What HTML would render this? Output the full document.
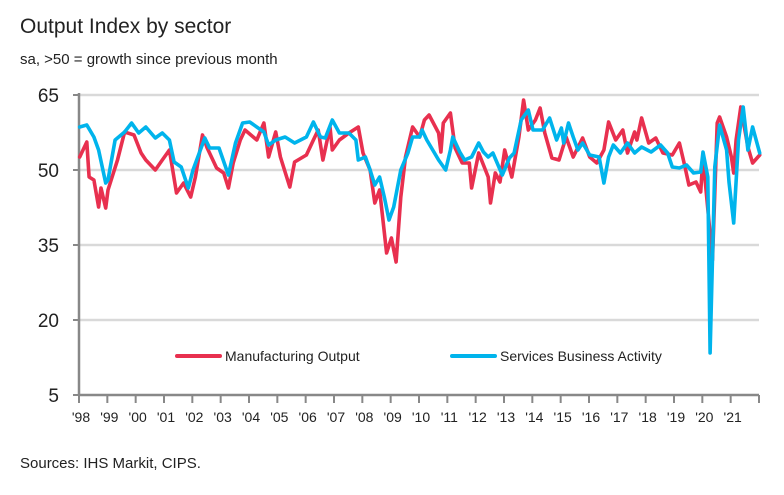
<!DOCTYPE html>
<html><head><meta charset="utf-8"><style>
body{margin:0;background:#fff;}
svg{display:block;font-family:"Liberation Sans",sans-serif;}
</style></head><body>
<svg id="chart" width="784" height="495" viewBox="0 0 784 495">
<text x="20" y="33" font-size="21" fill="#222">Output Index by sector</text>
<text x="20" y="64" font-size="15" fill="#222">sa, &gt;50 = growth since previous month</text>
<g id="grid"></g>
<g id="yaxis"></g>
<g id="xaxis"></g>
<g id="series"></g>
<g>
<g>
<line x1="177" y1="356" x2="220" y2="356" stroke="#e8304f" stroke-width="4" stroke-linecap="round"/>
<text x="225" y="361" font-size="14" fill="#222">Manufacturing Output</text></g>
<g>
<line x1="452" y1="356" x2="495" y2="356" stroke="#00b4ec" stroke-width="4" stroke-linecap="round"/>
<text x="500" y="361" font-size="14" fill="#222">Services Business Activity</text></g>
</g>
<text x="20" y="468" font-size="15" fill="#222">Sources: IHS Markit, CIPS.</text>
</svg>
<script>
const yTicks=[65,50,35,20,5];
const xLabels=["'98","'99","'00","'01","'02","'03","'04","'05","'06","'07","'08","'09","'10","'11","'12","'13","'14","'15","'16","'17","'18","'19","'20","'21"];
// month index since Jan 1998
const mfgMonths=[0,3,4,6,8,9,11,12,16,19,23,26,28,32,35,38,41,44,47,49,52,54,58,61,63,65,68,70,75,78,80,83,85,89,91,96,99,101,103,106,107,110,114,118,120,123,125,127,130,132,134,136,138,141,144,146,148,152,153,154,157,159,162,165,166,169,173,174,176,178,180,183,186,188,190,193,195,197,200,203,206,209,213,216,219,222,224,227,230,232,235,236,238,241,244,247,251,254,256,258,261,263,264,268,270,271,274,276,277,278,280,283,285,288];
const mfgValues=[52.6,55.6,48.6,48,42.6,46.4,42.4,46,52,57.6,57,53.4,52,50,52,54,45.4,47.4,44.6,48.6,57,54.4,50.4,49.4,46.4,51.4,56,58,56,59.4,52.6,57.6,52.6,46.6,51.6,53,56,58,52,58.6,54,56,57.4,58.6,53.4,50,43.4,46,33.4,36.4,31.6,44.6,52.6,58.6,56.6,60,61,57.4,53.6,59.4,61.4,54.4,51.4,51.4,46.4,53.4,48.6,43.4,49.4,47.6,54,48.6,56.6,64,58,60,62.4,57.4,52.4,52,56.6,52.6,56.4,52.6,51.4,54,59.6,56,58,53.4,57.6,56,60.4,55.4,56.4,53.4,53,55.4,51.4,47,47.6,45.6,52.6,32,59.4,60.6,56.6,52.6,49.4,56,62.6,54.6,51.4,53];
const svcMonths=[0,3,6,8,11,12,15,19,22,25,28,32,35,38,40,43,46,48,53,55,59,63,66,69,72,78,80,83,87,91,96,99,102,104,107,110,114,117,118,121,123,125,127,129,131,133,136,139,141,144,145,147,150,152,155,157,158,161,163,166,169,171,173,175,179,182,184,187,190,192,196,199,202,204,205,207,209,211,213,216,220,222,224,226,229,232,235,238,242,246,249,251,254,257,260,263,264,266,267,269,271,274,275,277,279,281,283,285,288];
const svcValues=[58.6,59,56.6,54,47.4,48,56,57.6,59.4,57.4,58.6,56.4,57.4,56,51.6,50.6,46.4,50,56.4,54.4,54.4,49,55.4,59.4,59.6,57.6,55,56,56.6,55.4,56.6,59.6,56.6,56.4,60,57.4,57.4,56,52,52.6,50,47,48.6,44.6,40,42.6,50,53.4,56.6,56.6,58,56,53.6,52,50,54,56.6,53.6,52,52.6,55.4,53.6,52.6,53.4,49,52.4,53.4,60,62,58,58,60.4,56,58.4,55.4,59.4,56.6,54,55.4,53,52.6,47.4,52.6,55,53.4,55.4,53.4,54.6,53.6,55,53.4,50.6,50.4,51,49.4,49.6,53.6,48.6,13.4,50.6,59,54,47.6,39.4,56,62.6,54,58.6,53.4];

const NS='http://www.w3.org/2000/svg';
const X0=79,X1=759,Y0=395,Y1=95;
function yScale(v){return Y0-(v-5)/(65-5)*(Y0-Y1);}
function xScale(m){return X0+m/(xLabels.length*12)*(X1-X0)+0.7;}
function mk(tag,attrs,parent){const e=document.createElementNS(NS,tag);for(const k in attrs)e.setAttribute(k,attrs[k]);parent.appendChild(e);return e;}
const grid=document.getElementById('grid'),ya=document.getElementById('yaxis'),xa=document.getElementById('xaxis'),ser=document.getElementById('series');
yTicks.forEach(t=>{
  const y=yScale(t);
  if(t!==5){const g=mk('line',{x1:X0,x2:X1,y1:y,y2:y,stroke:'#d9d9d9','stroke-width':2.5},grid);
  
  }
  mk('line',{x1:X0-6,x2:X0,y1:y,y2:y,stroke:'#888','stroke-width':2},ya);
  const tx=mk('text',{x:X0-20,y:y+7,'font-size':19,'text-anchor':'end',fill:'#222'},ya);
  tx.textContent=t;
  
  
});
mk('line',{x1:X0,x2:X0,y1:Y1-2,y2:Y0,stroke:'#888','stroke-width':2.5},ya);
mk('line',{x1:X0,x2:X1,y1:Y0,y2:Y0,stroke:'#888','stroke-width':2.5},xa);
for(let k=0;k<=xLabels.length;k++){
  const x=xScale(k*12)-0.7;
  mk('line',{x1:x,x2:x,y1:Y0,y2:Y0+8,stroke:'#888','stroke-width':2},xa);
  if(k<xLabels.length){
    const tx=mk('text',{x:x+2,y:Y0+27,'font-size':14,'text-anchor':'middle',fill:'#222'},xa);
    tx.textContent=xLabels[k];
    
    
  }
}
function drawLine(months,vals,color,name){
  const d=months.map((m,i)=>(i?'L':'M')+xScale(m).toFixed(1)+','+yScale(vals[i]).toFixed(1)).join(' ');
  const p=mk('path',{d:d,fill:'none',stroke:color,'stroke-width':3.6,'stroke-linejoin':'round','stroke-linecap':'round'},ser);
  
  
}
drawLine(mfgMonths,mfgValues,'#e8304f','manufacturing-output-line');
drawLine(svcMonths,svcValues,'#00b4ec','services-activity-line');
</script>
</body></html>
